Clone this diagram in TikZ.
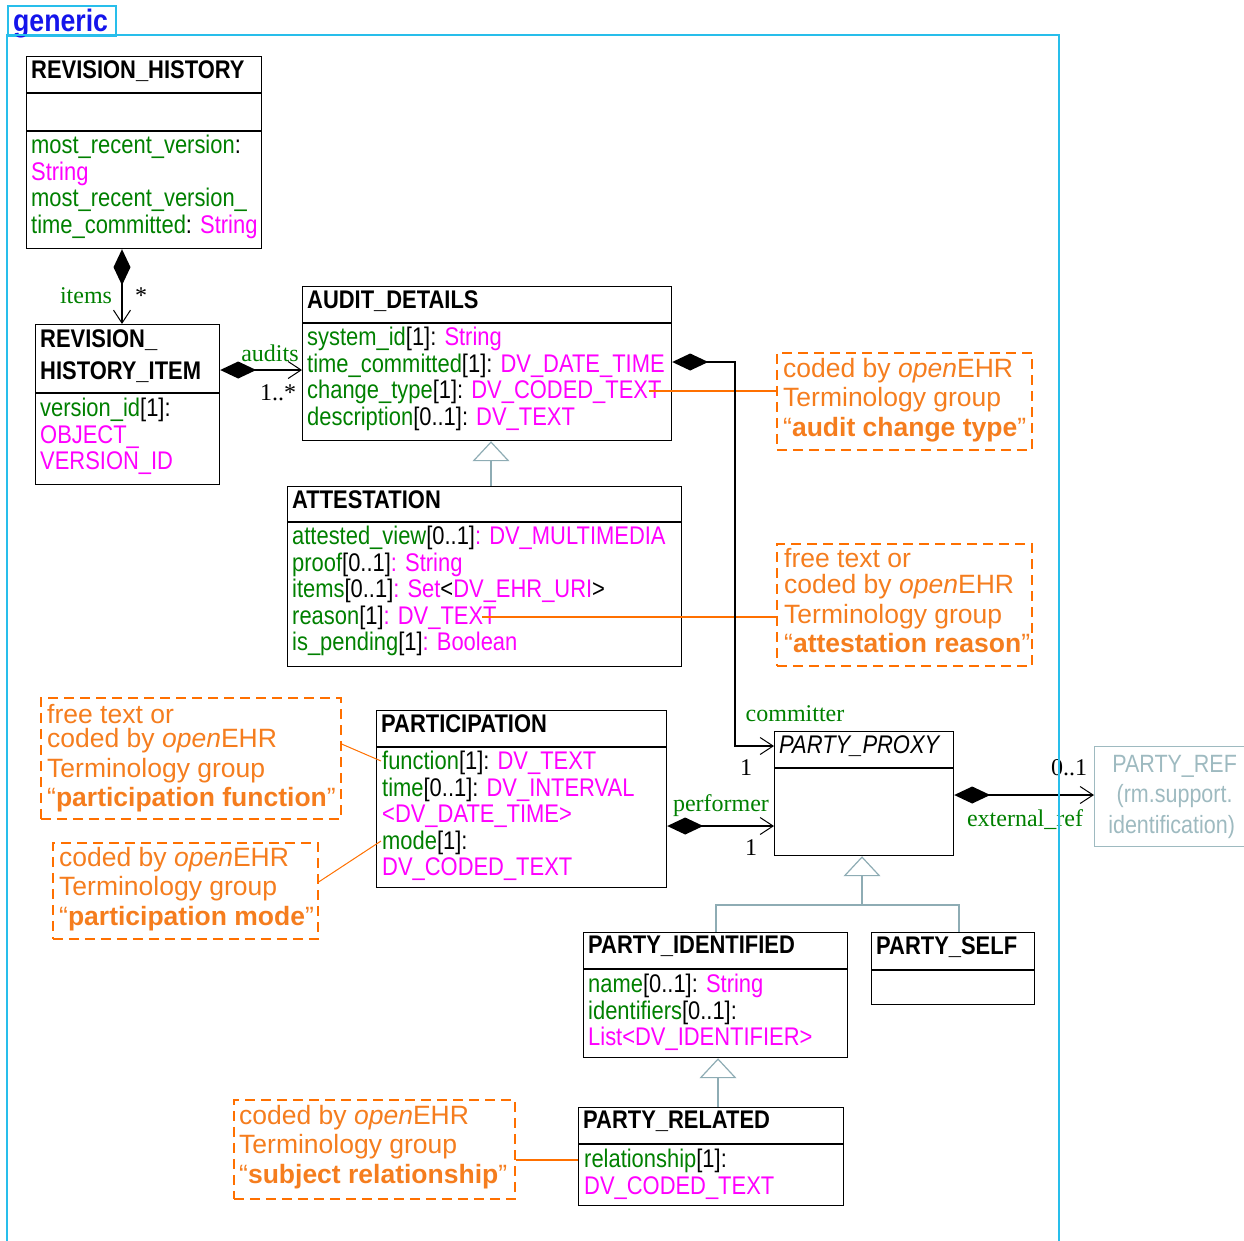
\documentclass[tikz,border=0pt]{standalone}
\usepackage{fontspec}
\setmainfont{Liberation Sans}[FakeStretch=0.86]
\newfontfamily\notefont{Liberation Sans}
\newfontfamily\rolefont{Liberation Serif}
\usetikzlibrary{arrows.meta}

\definecolor{pkgcyan}{RGB}{40,190,235}
\definecolor{pkgblue}{RGB}{20,20,235}
\definecolor{attgreen}{RGB}{0,128,0}
\definecolor{typmag}{RGB}{255,0,255}
\definecolor{notorange}{RGB}{255,112,0}
\definecolor{notetext}{RGB}{245,125,30}
\definecolor{genblue}{RGB}{142,172,180}
\definecolor{refgray}{RGB}{158,186,192}

\newcommand{\attn}[1]{\textcolor{attgreen}{#1}}
\newcommand{\atyp}[1]{\textcolor{typmag}{#1}}
\newcommand{\compline}[2]{\draw[line width=1.2pt] (#1.west |- 0,#2) -- (#1.east |- 0,#2);}

\begin{document}
\begin{tikzpicture}[
  x=1pt, y=-1pt,
  cls/.style={draw, line width=1.2pt, anchor=north west, inner sep=0},
  ctitle/.style={anchor=north west, inner sep=0, align=left, font=\fontsize{25.5}{26.5}\selectfont\bfseries},
  cattr/.style={anchor=north west, inner sep=0, align=left, font=\fontsize{25.5}{26.5}\selectfont},
  note/.style={draw=notorange, line width=1.6pt, dash pattern=on 10pt off 6pt, anchor=north west, inner sep=0},
  ntext/.style={anchor=north west, inner sep=0, align=left, text=notetext, font=\notefont\fontsize{26.5}{29.5}\selectfont},
  role/.style={anchor=base, inner sep=0, text=attgreen, font=\rolefont\fontsize{24}{24}\selectfont},
  mult/.style={role, text=black},
  assoc/.style={line width=1.8pt, {Diamond[length=36pt,width=17pt]}-{Straight Barb[length=13pt,width=17pt,line width=1pt]}},
  gen/.style={genblue, line width=1.8pt, -{Triangle[open,length=20pt,width=37pt,line width=1.2pt,fill=white]}},
  genline/.style={genblue, line width=1.8pt},
  nlink/.style={notorange, line width=1.8pt},
  nthin/.style={notorange, line width=1pt},
]
\useasboundingbox (0,0) rectangle (1244,1240);

\node[draw=pkgcyan, line width=1.6pt, minimum width=108pt, minimum height=30pt, anchor=north west, inner sep=0] (gentab) at (7,5) {};
\node[anchor=base west, inner sep=0, text=pkgblue, font=\fontsize{31}{31}\selectfont\bfseries] (gentxt) at (13,31) {generic};

\node[cls, minimum width=235pt, minimum height=192pt] (rh) at (26,56) {};
\node[ctitle] (rh-t) at (31,60) {REVISION\_HISTORY};
\compline{rh}{93}
\compline{rh}{131}
\node[cattr] (rh-a) at (31,135) {\attn{most\_recent\_version}:\\
  \atyp{String}\\
  \attn{most\_recent\_version\_}\\
  \attn{time\_committed}: \atyp{String}};

\node[cls, minimum width=184pt, minimum height=160pt] (rhi) at (35,324) {};
\node[ctitle, font=\fontsize{25.5}{32}\selectfont\bfseries] (rhi-t) at (40,329) {REVISION\_\\HISTORY\_ITEM};
\compline{rhi}{393}
\node[cattr] (rhi-a) at (40,398) {\attn{version\_id}[1]:\\
  \atyp{OBJECT\_}\\
  \atyp{VERSION\_ID}};

\node[cls, minimum width=369pt, minimum height=154pt] (ad) at (302,286) {};
\node[ctitle] (ad-t) at (307,290) {AUDIT\_DETAILS};
\compline{ad}{323}
\node[cattr] (ad-a) at (307,327) {\attn{system\_id}[1]: \atyp{String}\\
  \attn{time\_committed}[1]: \atyp{DV\_DATE\_TIME}\\
  \attn{change\_type}[1]: \atyp{DV\_CODED\_TEXT}\\
  \attn{description}[0..1]: \atyp{DV\_TEXT}};

\node[cls, minimum width=394pt, minimum height=180pt] (att) at (287,486) {};
\node[ctitle] (att-t) at (292,490) {ATTESTATION};
\compline{att}{522}
\node[cattr] (att-a) at (292,526) {\attn{attested\_view}[0..1]\atyp{: DV\_MULTIMEDIA}\\
  \attn{proof}[0..1]\atyp{: String}\\
  \attn{items}[0..1]\atyp{: Set}<\atyp{DV\_EHR\_URI}>\\
  \attn{reason}[1]\atyp{: DV\_TEXT}\\
  \attn{is\_pending}[1]\atyp{: Boolean}};

\node[cls, minimum width=290pt, minimum height=177pt] (part) at (376,710) {};
\node[ctitle] (part-t) at (381,714) {PARTICIPATION};
\compline{part}{747}
\node[cattr] (part-a) at (382,751) {\attn{function}[1]: \atyp{DV\_TEXT}\\
  \attn{time}[0..1]: \atyp{DV\_INTERVAL}\\
  \atyp{<DV\_DATE\_TIME>}\\
  \attn{mode}[1]:\\
  \atyp{DV\_CODED\_TEXT}};

\node[cls, minimum width=179pt, minimum height=124pt] (pp) at (774,731) {};
\node[ctitle, font=\fontsize{25.5}{26.5}\selectfont\itshape] (pp-t) at (779,735) {PARTY\_PROXY};
\compline{pp}{768}

\node[cls, minimum width=264pt, minimum height=125pt] (pi) at (583,932) {};
\node[ctitle] (pi-t) at (588,936) {PARTY\_IDENTIFIED};
\compline{pi}{969}
\node[cattr] (pi-a) at (588,974) {\attn{name}[0..1]: \atyp{String}\\
  \attn{identifiers}[0..1]:\\
  \atyp{List<DV\_IDENTIFIER>}};

\node[cls, minimum width=163pt, minimum height=72pt] (ps) at (871,932) {};
\node[ctitle] (ps-t) at (876,936) {PARTY\_SELF};
\compline{ps}{970}

\node[cls, minimum width=265pt, minimum height=98pt] (pr) at (578,1107) {};
\node[ctitle] (pr-t) at (583,1111) {PARTY\_RELATED};
\compline{pr}{1144}
\node[cattr] (pr-a) at (584,1149) {\attn{relationship}[1]:\\
  \atyp{DV\_CODED\_TEXT}};

\node[cls, draw=refgray, text=refgray, minimum width=160pt, minimum height=100pt, align=center, font=\fontsize{25}{30.5}\selectfont] (pref) at (1094,746) {PARTY\_REF\\(rm.support.\\identification)\hspace*{6pt}};

\node[note, minimum width=255pt, minimum height=97pt] (n1) at (776,352) {};
\node[ntext] (n1-t) at (783,358) {coded by \textit{open}EHR\\
  Terminology group\\
  “\textbf{audit change type}”};

\node[note, minimum width=255pt, minimum height=122pt] (n2) at (776,543) {};
\node[ntext] (n2-t) at (784,548) {free text or\\[-3pt]
  coded by \textit{open}EHR\\
  Terminology group\\
  “\textbf{attestation reason}”};

\node[note, minimum width=300pt, minimum height=121pt] (n3) at (40,697) {};
\node[ntext] (n3-t) at (47,704) {free text or\\[-5pt]
  coded by \textit{open}EHR\\
  Terminology group\\
  “\textbf{participation function}”};

\node[note, minimum width=265pt, minimum height=96pt] (n4) at (52,842) {};
\node[ntext] (n4-t) at (59,847) {coded by \textit{open}EHR\\
  Terminology group\\
  “\textbf{participation mode}”};

\node[note, minimum width=281pt, minimum height=99pt] (n5) at (233,1099) {};
\node[ntext] (n5-t) at (239,1105) {coded by \textit{open}EHR\\
  Terminology group\\
  “\textbf{subject relationship}”};

\coordinate (ad-ct) at (649,391);
\coordinate (att-rs) at (482,617);
\coordinate (part-fn) at (381,761);
\coordinate (part-md) at (381,841);
\draw[nlink] (ad-ct) -- (n1.west |- ad-ct);
\draw[nlink] (att-rs) -- (n2.west |- att-rs);
\draw[nthin] (n3.east |- 0,744) -- (part-fn);
\draw[nthin] (n4.east |- 0,882) -- (part-md);
\draw[nlink] (n5.east |- 0,1160) -- (pr.west |- 0,1160);

\coordinate (cmt) at (735,746);
\draw[assoc] (rh.south -| 122,0) -- (rhi.north -| 122,0);
\draw[assoc] (rhi.east |- 0,370) -- (ad.west |- 0,370);
\draw[assoc] (ad.east |- 0,362) -| (cmt) -- (pp.west |- cmt);
\draw[assoc] (part.east |- 0,826) -- (pp.west |- 0,826);
\draw[assoc] (pp.east |- 0,795) -- (pref.west |- 0,795);

\node[role] (l-items) at (86,303) {items};
\node[mult] (m-items) at (141,303) {*};
\node[role] (l-audits) at (270,361) {audits};
\node[mult] (m-audits) at (278,400) {1..*};
\node[role] (l-cmt) at (795,721) {committer};
\node[mult] (m-cmt) at (746,775) {1};
\node[role] (l-perf) at (721,811) {performer};
\node[mult] (m-perf) at (751,855) {1};
\node[mult] (m-ext) at (1069,775) {0..1};
\node[role] (l-ext) at (1025,826) {external\_ref};

\coordinate (gj) at (862,905);
\draw[gen] (att.north -| 491,0) -- (ad.south -| 491,0);
\draw[genline] (pi.north) |- (gj) -| (ps.north -| 959,0);
\draw[gen] (gj) -- (pp.south -| gj);
\draw[gen] (pr.north -| 718,0) -- (pi.south -| 718,0);

\draw[pkgcyan, line width=1.6pt] (7,1250) -- (7,35) -- (1059,35) -- (1059,1250);

\end{tikzpicture}
\end{document}
